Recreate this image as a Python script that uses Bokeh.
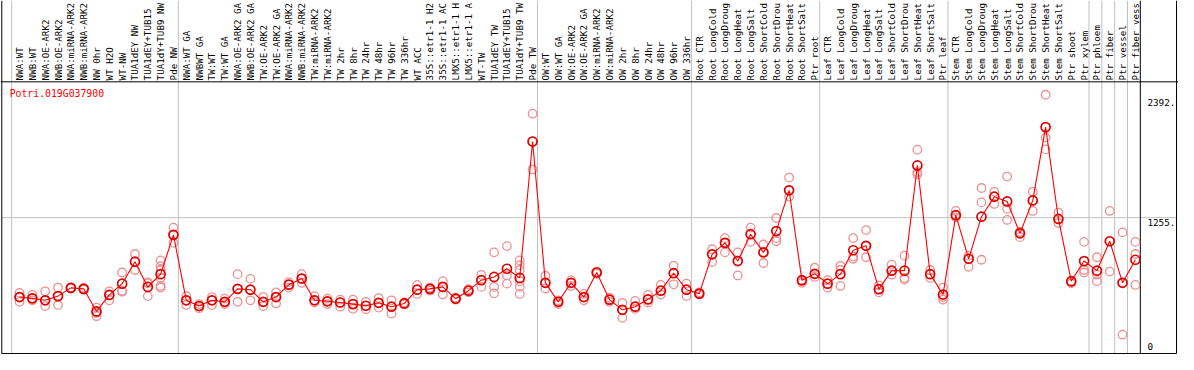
import math
from bokeh.plotting import figure
from bokeh.models import Range1d, ColumnDataSource
from bokeh.core.properties import value
from bokeh.embed import file_html
from bokeh.resources import INLINE

# ---------------- data ----------------
gene = "Potri.019G037900"

group_sizes = [13, 28, 12, 10, 10, 11, 1, 1, 1, 1]

# column labels as far as the reference shows them (cut at the top edge)
labels = [
    "NWA:WT", "NWB:WT", "NWA:OE-ARK2", "NWB:OE-ARK2", "NWA:miRNA-ARK2", "NWB:miRNA-ARK2",
    "NW 0hr", "WT H2O", "WT-NW", "TUA1dEY NW", "TUA1dEY+TUB15", "TUA1dY+TUB9 NW", "Pde NW",
    "NWA:WT GA", "NWBWT GA", "TW:WT", "TW:WT GA", "NWA:OE-ARK2 GA", "NWB:OE-ARK2 GA",
    "TW:OE-ARK2", "TW:OE-ARK2 GA", "NWA:miRNA-ARK2", "NWB:miRNA-ARK2", "TW:miRNA-ARK2",
    "TW:miRNA-ARK2", "TW 2hr", "TW 8hr", "TW 24hr", "TW 48hr", "TW 96hr", "TW 336hr",
    "WT ACC", "35S::etr1-1 H2", "35S::etr1-1 AC", "LMX5::etr1-1 H", "LMX5::etr1-1 A",
    "WT-TW", "TUA1dEY TW", "TUA1dEY+TUB15", "TUA1dY+TUB9 TW", "Pde TW",
    "OW:WT", "OW:WT GA", "OW:OE-ARK2", "OW:OE-ARK2 GA", "OW:miRNA-ARK2", "OW:miRNA-ARK2",
    "OW 2hr", "OW 8hr", "OW 24hr", "OW 48hr", "OW 96hr", "OW 336hr",
    "Root CTR", "Root LongCold", "Root LongDroug", "Root LongHeat", "Root LongSalt",
    "Root ShortCold", "Root ShortDrou", "Root ShortHeat", "Root ShortSalt", "Ptr root",
    "Leaf CTR", "Leaf LongCold", "Leaf LongDroug", "Leaf LongHeat", "Leaf LongSalt",
    "Leaf ShortCold", "Leaf ShortDrou", "Leaf ShortHeat", "Leaf ShortSalt", "Ptr leaf",
    "Stem CTR", "Stem LongCold", "Stem LongDroug", "Stem LongHeat", "Stem LongSalt",
    "Stem ShortCold", "Stem ShortDrou", "Stem ShortHeat", "Stem ShortSalt", "Ptr shoot",
    "Ptr xylem", "Ptr phloem", "Ptr fiber", "Ptr vessel", "Ptr fiber vess",
]

means = [
    522, 510, 492, 531, 607, 598, 389, 542, 646, 849, 616, 734, 1097,
    492, 439, 492, 478, 598, 590, 478, 522, 637, 693, 492, 483, 472, 457, 442, 469, 433, 463,
    590, 598, 616, 507, 581, 678, 708, 784, 699, 1960,
    654, 478, 654, 522, 749, 498, 404, 433, 501, 581, 743, 590,
    554, 917, 1023, 855, 1103, 935, 1132, 1509, 678, 737,
    646, 734, 955, 996, 595, 766, 766, 1739, 734, 545,
    1279, 876, 1265, 1450, 1406, 1111, 1415, 2093, 1244, 669, 855,
    766, 1038, 654, 867,
]

reps = [
    [560, 522, 478], [542, 510, 492], [575, 492, 439], [610, 531, 448], [610, 607, 601],
    [607, 598, 590], [425, 375, 345], [575, 542, 492], [749, 581, 572], [920, 849, 772],
    [660, 649, 531], [861, 808, 772, 699, 625, 610], [1164, 1097, 1023],
    [531, 492, 448], [457, 439, 419], [522, 492, 448], [507, 478, 457], [734, 598, 478],
    [690, 590, 492], [522, 478, 439], [566, 522, 463], [660, 637, 610], [734, 693, 654],
    [531, 492, 472], [507, 483, 457], [498, 472, 433], [498, 457, 413], [478, 442, 410],
    [513, 469, 425], [492, 433, 369], [472, 463, 454], [634, 590, 551], [610, 598, 581],
    [669, 616, 545], [516, 507, 498], [595, 581, 566], [728, 678, 616], [935, 616, 557],
    [993, 722, 646], [861, 817, 772, 669, 616, 551], [2217, 1960, 1701],
    [719, 654, 601], [492, 478, 457], [678, 654, 625], [551, 522, 492], [758, 749, 737],
    [516, 498, 478], [469, 404, 330], [486, 433, 413], [542, 501, 472], [634, 581, 545],
    [811, 743, 640], [646, 590, 531],
    [566, 554, 545], [964, 917, 846], [1067, 1023, 935], [935, 855, 722], [1164, 1103, 1032],
    [1008, 935, 837], [1253, 1067, 1038], [1627, 1509, 1450], [678, 669, 654], [793, 737, 708],
    [678, 646, 610], [811, 772, 625], [1067, 896, 876], [1141, 996, 890], [631, 595, 566],
    [822, 766, 729], [905, 699, 684], [1884, 1677, 1657], [772, 734, 699], [610, 522, 498],
    [1318, 1279, 1259], [905, 876, 802], [1530, 1397, 867], [1495, 1450, 1383],
    [1636, 1338, 1235], [1126, 1111, 1076], [1495, 1415, 1318], [2392, 1996, 1887],
    [1303, 1244, 1206], [669, 660, 649], [1032, 772, 749],
    [890, 729, 669], [1318, 1038, 758], [1120, 654, 174], [1032, 920, 634],
]

# ---------------- layout (reference pixel frame) ----------------
REF_W, REF_H = 1194, 370
FIG_W, FIG_H = 1178, 354
COL0_PX, PITCH_PX = 19.3, 13.0     # pixel x of first column, column pitch
BASE_PX, TOP_PX = 369.0, 85.0      # pixel y of value 0 and of top of plot area
SEP_OFF = 8.0                      # separator sits this many px left of a group's first column
LEFT_PX, RIGHT_PX = 1.3, 1192.0
MONO = value("DejaVu Sans Mono")

vmax = max(max(r) for r in reps)
vtop = vmax * 1.05

def xd(px):
    return (px - COL0_PX) / PITCH_PX

def yd(py):
    return (BASE_PX - py) * vtop / (BASE_PX - TOP_PX)

def ypx(v):
    return BASE_PX - v * (BASE_PX - TOP_PX) / vtop

n = len(means)
xs = list(range(n))

p = figure(width=FIG_W, height=FIG_H,
           x_range=Range1d(xd(0), xd(REF_W)), y_range=Range1d(yd(REF_H), yd(0)),
           output_backend="svg", toolbar_location=None,
           x_axis_location=None, y_axis_location=None, min_border=0,
           outline_line_color=None, background_fill_color="white",
           border_fill_color="white")
p.xgrid.grid_line_color = None
p.ygrid.grid_line_color = None

# group separators (gray) and outer frame (black)
starts = [0]
for g in group_sizes:
    starts.append(starts[-1] + g)
sep_x = [s - SEP_OFF / PITCH_PX for s in starts[:-1]]
p.segment(x0=sep_x, y0=[yd(0)] * len(sep_x), x1=sep_x, y1=[yd(BASE_PX)] * len(sep_x),
          line_color="#c0c0c0", line_width=1)
# mid gridline
p.segment(x0=[xd(LEFT_PX)], y0=[vtop / 2], x1=[xd(RIGHT_PX)], y1=[vtop / 2],
          line_color="#c0c0c0", line_width=1)

end_x = starts[-1] - SEP_OFF / PITCH_PX
bx0 = [xd(LEFT_PX), xd(RIGHT_PX), end_x, xd(LEFT_PX), xd(0)]
bx1 = [xd(LEFT_PX), xd(RIGHT_PX), end_x, xd(RIGHT_PX), xd(REF_W)]
by0 = [yd(0), yd(0), yd(0), 0, vtop]
by1 = [yd(BASE_PX), yd(BASE_PX), yd(BASE_PX), 0, vtop]
p.segment(x0=bx0, y0=by0, x1=bx1, y1=by1, line_color="black", line_width=1)

# replicates
rx, ry = [], []
for i, r in enumerate(reps):
    for v in r:
        rx.append(i)
        ry.append(v)
p.scatter(rx, ry, marker="circle", size=8.5, fill_color=None,
          line_color="#ee9090", line_width=1.3)

# mean line and points
p.line(xs, means, line_color="#ff0000", line_width=1.1)
p.scatter(xs, means, marker="circle", size=9, fill_color=None,
          line_color="#e00000", line_width=1.7)

# column labels (rotated)
src = ColumnDataSource(dict(x=xs, y=[yd(83.5)] * n, t=labels))
p.text(x="x", y="y", text="t", source=src, angle=math.pi / 2,
       text_font=MONO, text_font_size="9.2px",
       text_align="left", text_baseline="middle", text_color="black")

# gene name
p.text(x=[xd(9.3)], y=[yd(97.3)], text=[gene], text_font=MONO,
       text_font_size="9.8px", text_align="left", text_baseline="middle",
       text_color="#ff0000")

# value labels on the right
def fmt(v):
    return ("%.1f" % v)[:5]

vy = [yd(ypx(vmax) + 8.2), yd(ypx(vtop / 2) + 4.6), yd(ypx(0) - 7.0)]
vt = [fmt(vmax), fmt(vtop / 2), "0"]
p.text(x=[xd(1162.5)] * 3, y=vy, text=vt, text_font=MONO,
       text_font_size="9.3px", text_align="left", text_baseline="middle",
       text_color="black")

open("out.html", "w").write(file_html(p, INLINE))
